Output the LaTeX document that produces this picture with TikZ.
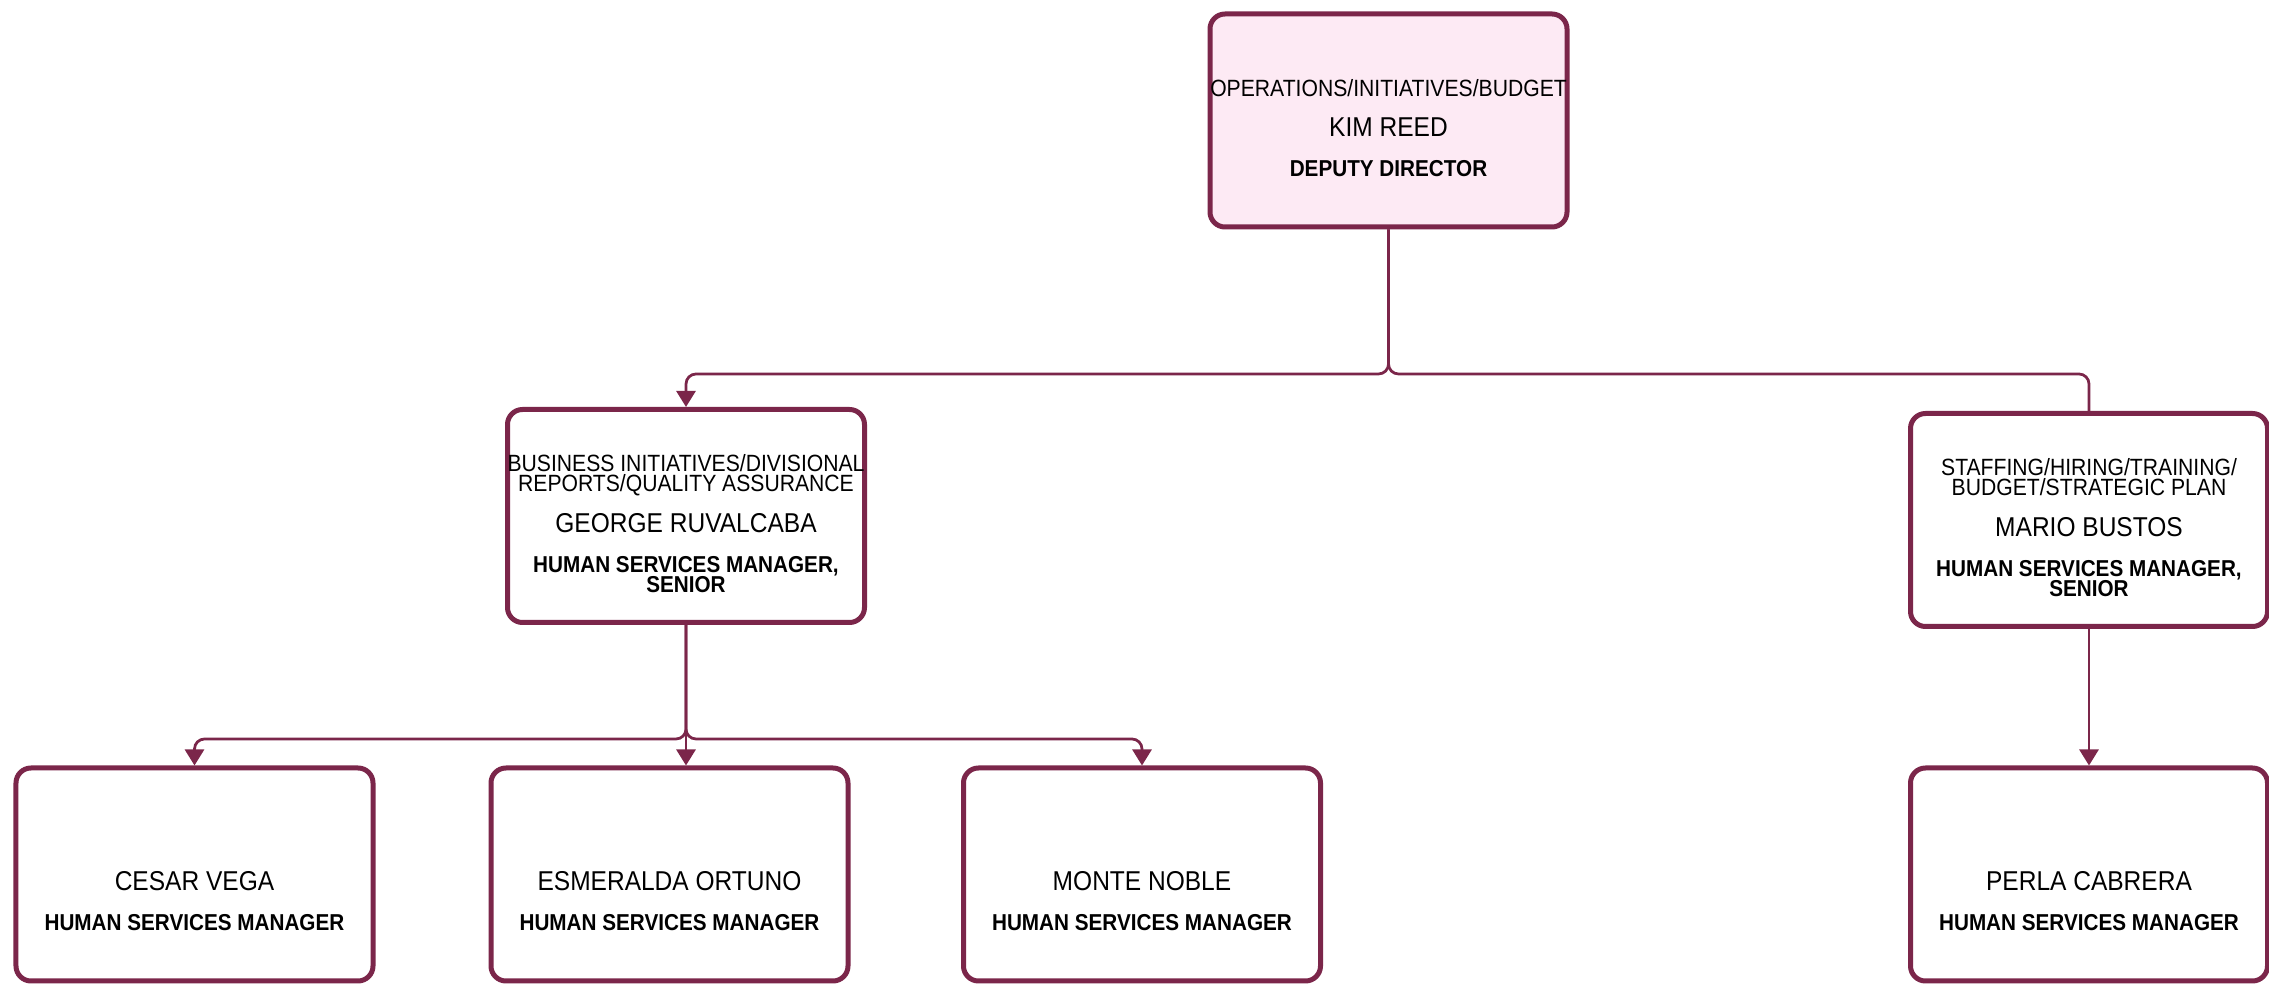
\documentclass[tikz,border=0pt]{standalone}
\usepackage{fontspec}
\usepackage{xcolor}
\usepackage{tikz}
\newfontfamily\orgfont[FakeStretch=0.9]{Liberation Sans}
\usetikzlibrary{arrows.meta,calc}
\definecolor{orgline}{RGB}{123,38,74}
\definecolor{orgpink}{RGB}{253,234,244}
\newcommand{\namefont}{\fontsize{10.9}{8.2}\selectfont}
\newcommand{\titlefont}{\bfseries\fontsize{9.2}{8.2}\selectfont}
\newcommand{\orgcard}[5]{\rule{0pt}{15pt}#1\\#2\\[8pt]{\namefont #3}\\[7.8pt]{\titlefont #4}\\{\titlefont #5}\rule[-2pt]{0pt}{2pt}}

\begin{document}
\begin{tikzpicture}[x=0.4pt,y=-0.4pt,
  orgbox/.style={draw=orgline, line width=2pt, rounded corners=6pt, fill=white,
    minimum width=142.8pt, minimum height=85.2pt, inner sep=0pt, align=center,
    font=\orgfont\fontsize{9.4}{8.2}\selectfont\lineskiplimit-50pt},
  orglink/.style={draw=orgline, line width=1.1pt, rounded corners=4pt},
  arrowed/.style={-{Triangle[width=7.6pt,length=6.4pt]}}]
  \useasboundingbox (0,0) rectangle (2269,984);
  \node[orgbox, fill=orgpink] (kim) at (1388.5,120.5) {\orgcard{}{OPERATIONS/INITIATIVES/BUDGET}{KIM REED}{DEPUTY DIRECTOR}{}};
  \node[orgbox] (george) at (686,516) {\orgcard{BUSINESS INITIATIVES/DIVISIONAL}{REPORTS/QUALITY ASSURANCE}{GEORGE RUVALCABA}{HUMAN SERVICES MANAGER,}{SENIOR}};
  \node[orgbox] (mario) at (2089,520) {\orgcard{STAFFING/HIRING/TRAINING/}{BUDGET/STRATEGIC PLAN}{MARIO BUSTOS}{HUMAN SERVICES MANAGER,}{SENIOR}};
  \node[orgbox] (cesar) at (194.5,874.5) {\orgcard{}{}{CESAR VEGA}{HUMAN SERVICES MANAGER}{}};
  \node[orgbox] (esmeralda) at (669.5,874.5) {\orgcard{}{}{ESMERALDA ORTUNO}{HUMAN SERVICES MANAGER}{}};
  \node[orgbox] (monte) at (1142,874.5) {\orgcard{}{}{MONTE NOBLE}{HUMAN SERVICES MANAGER}{}};
  \node[orgbox] (perla) at (2089,874.5) {\orgcard{}{}{PERLA CABRERA}{HUMAN SERVICES MANAGER}{}};
  % reporting lines
  \coordinate (topbus) at (1389,374);
  \coordinate (lowbus) at (686,739);
  \draw[orglink,arrowed] (kim.south) -- (kim.south |- topbus) -| (george.north);
  \draw[orglink] (kim.south) -- (kim.south |- topbus) -| (mario.north);
  \draw[orglink,arrowed] (george.south) -- (george.south |- lowbus) -| (cesar.north);
  \draw[orglink,arrowed] (george.south) -- (george.south |- lowbus) -| (monte.north);
  \draw[orglink,arrowed] (george.south) -- (george.south |- esmeralda.north);
  \draw[orglink,arrowed] (mario.south) -- (perla.north);
\end{tikzpicture}
\end{document}
